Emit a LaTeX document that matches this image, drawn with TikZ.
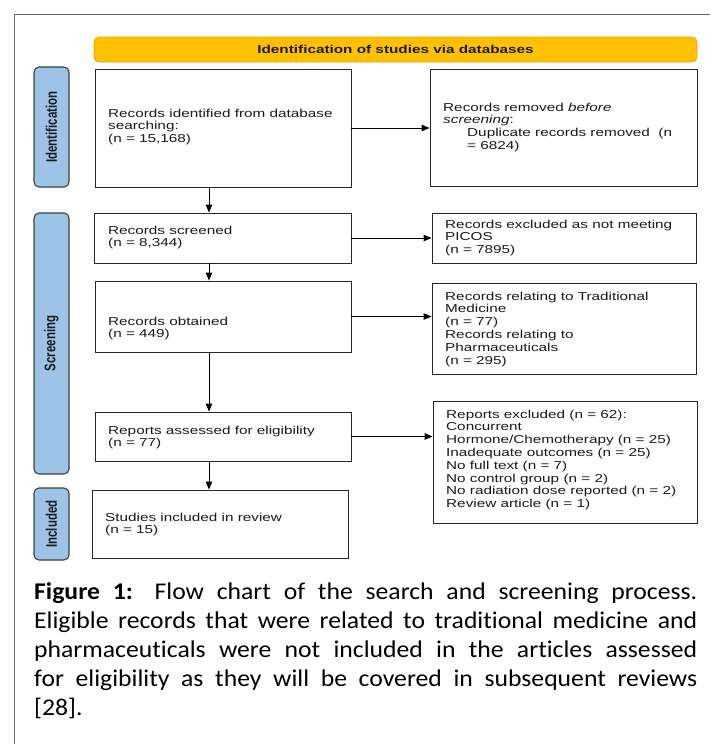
\documentclass[tikz,border=0pt]{standalone}
\usepackage{fontspec}
\setmainfont{Liberation Sans}
\newfontfamily\boxfont[FakeStretch=1.33]{Liberation Sans}
\newfontfamily\labfont[FakeStretch=0.75]{Liberation Sans}
\newfontfamily\capfont[FakeStretch=1.07, Ligatures={NoCommon}, WordSpace={1,4,0.5}]{Carlito}
\usetikzlibrary{arrows.meta}
\definecolor{bannerfill}{HTML}{FFC000}
\definecolor{bannerline}{HTML}{E3A600}
\definecolor{labfill}{HTML}{9DC3E6}
\definecolor{labline}{HTML}{3F3F3F}
\definecolor{framecol}{HTML}{666666}
\definecolor{txt}{HTML}{1A1A1A}
\tikzset{
  boxnode/.style={draw=black!85, line width=0.9pt, rectangle, inner sep=0pt},
  boxtext/.style={anchor=north west, inner sep=0pt, align=left, text=txt,
    font=\boxfont\fontsize{11.5}{12.8}\selectfont},
  labnode/.style={draw=labline, fill=labfill, line width=1.1pt, rounded corners=5pt,
    minimum width=35pt, inner sep=0pt},
  labtext/.style={rotate=90, inner sep=0pt, text=txt,
    font=\labfont\bfseries\fontsize{15.3}{16}\selectfont},
  arr/.style={line width=0.9pt, -{Triangle[length=8pt,width=6.5pt]}},
}
\begin{document}
\begin{tikzpicture}[x=1pt,y=-1pt]
\useasboundingbox (0,0) rectangle (710,744);
% frame
\draw[framecol, line width=1pt] (14,744) -- (14,14) -- (710,14);
% banner
\node[draw=bannerline, fill=bannerfill, line width=0.8pt, rounded corners=5pt,
  minimum width=603pt, minimum height=25pt, inner sep=0pt] (banner) at (395.5,49.5) {};
\node[font=\boxfont\bfseries\fontsize{11.5}{12.8}\selectfont, text=txt, inner sep=0pt]
  (bannertxt) at (395.5,49.5) {Identification of studies via databases};
% side labels
\node[labnode, minimum height=120pt] (lid) at (51.5,127) {};
\node[labtext] (lidt) at (lid.center) {Identification};
\node[labnode, minimum height=261pt] (lsc) at (51.5,343.5) {};
\node[labtext] (lsct) at (lsc.center) {Screening};
\node[labnode, minimum height=72pt] (lin) at (51.5,524) {};
\node[labtext] (lint) at (lin.center) {Included};
% left boxes
\node[boxnode, minimum width=256pt, minimum height=118pt] (b1) at (223,128) {};
\node[boxtext] (b1t) at (108,108.5) {Records identified from database\\searching:\\(n = 15,168)};
\node[boxnode, minimum width=257pt, minimum height=50pt] (b2) at (222.5,238) {};
\node[boxtext] (b2t) at (108,225.5) {Records screened\\(n = 8,344)};
\node[boxnode, minimum width=256pt, minimum height=71pt] (b3) at (223,316.5) {};
\node[boxtext] (b3t) at (108,316.5) {Records obtained\\(n = 449)};
\node[boxnode, minimum width=256pt, minimum height=49pt] (b4) at (223,436.5) {};
\node[boxtext] (b4t) at (108,425.5) {Reports assessed for eligibility\\(n = 77)};
\node[boxnode, minimum width=256pt, minimum height=68pt] (b5) at (220,524) {};
\node[boxtext] (b5t) at (105,512.5) {Studies included in review\\(n = 15)};
% right boxes
\node[boxnode, minimum width=267pt, minimum height=117pt] (r1) at (563.5,127.5) {};
\node[boxtext] (r1t) at (443,102.5) {Records removed \textit{before}\\\textit{screening}:\\\hspace*{24pt}Duplicate records removed\ \ (n\\\hspace*{24pt}= 6824)};
\node[boxnode, minimum width=264pt, minimum height=50pt] (r2) at (564,238) {};
\node[boxtext] (r2t) at (445,219.5) {Records excluded as not meeting\\PICOS\\(n = 7895)};
\node[boxnode, minimum width=264pt, minimum height=91pt] (r3) at (564,328.5) {};
\node[boxtext] (r3t) at (445,291.5) {Records relating to Traditional\\Medicine\\(n = 77)\\Records relating to\\Pharmaceuticals\\(n = 295)};
\node[boxnode, minimum width=264pt, minimum height=122pt] (r4) at (565,462) {};
\node[boxtext] (r4t) at (446,409.5) {Reports excluded (n = 62):\\Concurrent\\Hormone/Chemotherapy (n = 25)\\Inadequate outcomes (n = 25)\\No full text (n = 7)\\No control group (n = 2)\\No radiation dose reported (n = 2)\\Review article (n = 1)};
% horizontal arrows
\draw[arr] (b1.east) -- (b1.east -| r1.west);
\draw[arr] (b2.east) -- (b2.east -| r2.west);
\draw[arr] (b3.east) -- (b3.east -| r3.west);
\draw[arr] (b4.east) -- (b4.east -| r4.west);
% vertical arrows
\draw[arr] ([xshift=-14pt]b1.south) -- ([xshift=-14pt]b1.south |- b2.north);
\draw[arr] ([xshift=-13.5pt]b2.south) -- ([xshift=-13.5pt]b2.south |- b3.north);
\draw[arr] ([xshift=-14pt]b3.south) -- ([xshift=-14pt]b3.south |- b4.north);
\draw[arr] ([xshift=-14pt]b4.south) -- ([xshift=-14pt]b4.south |- b5.north);
% caption
\node[anchor=north west, inner sep=0pt, text width=663pt, align=justify,
  font=\capfont\fontsize{24}{29}\selectfont, text=black] (cap) at (34,582) {%
\textbf{Figure 1:} Flow chart of the search and screening process.\linebreak
Eligible records that were related to traditional medicine and\linebreak
pharmaceuticals were not included in the articles assessed\linebreak
for eligibility as they will be covered in subsequent reviews\linebreak
{[28].}\par};
\end{tikzpicture}
\end{document}
